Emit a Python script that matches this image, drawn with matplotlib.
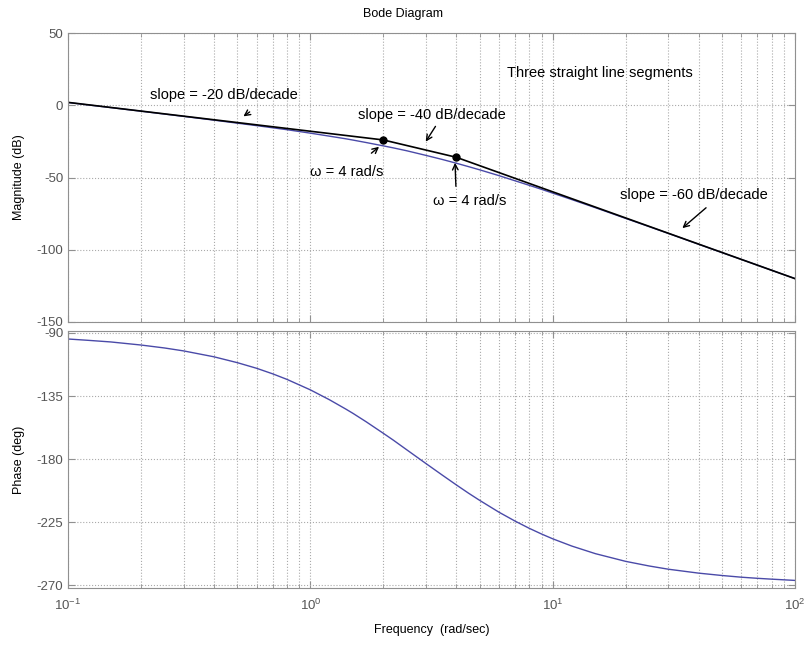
import matplotlib.pyplot as plt
from matplotlib.ticker import LogLocator, NullFormatter

plt.rcParams['font.family'] = ['Liberation Sans', 'DejaVu Sans']
plt.rcParams['axes.unicode_minus'] = False

# values
freq = [0.1, 0.12, 0.15, 0.2, 0.25, 0.3, 0.4, 0.5, 0.6, 0.7,
        0.8, 1, 1.2, 1.4, 1.5, 1.7, 2, 2.2, 2.5, 3,
        3.5, 4, 4.5, 5, 6, 7, 8, 9, 10, 12,
        15, 20, 25, 30, 40, 50, 60, 70, 80, 100]
mag_db = [1.9, 0.3, -1.6, -4.1, -6.1, -7.7, -10.3, -12.4, -14.1, -15.6,
          -16.9, -19.3, -21.4, -23.2, -24.1, -25.8, -28.1, -29.5, -31.5, -34.7,
          -37.5, -40.1, -42.5, -44.7, -48.7, -52.3, -55.4, -58.2, -60.8, -65.3,
          -70.9, -78.3, -84.0, -88.7, -96.2, -102.0, -106.7, -110.7, -114.2, -120.0]
phase_deg = [-94.3, -95.2, -96.4, -98.6, -100.7, -102.8, -107.0, -111.2, -115.2, -119.2,
             -123.1, -130.6, -137.7, -144.3, -147.4, -153.4, -161.6, -166.5, -173.4, -183.2,
             -191.4, -198.4, -204.4, -209.5, -217.9, -224.3, -229.4, -233.5, -236.9, -242.1,
             -247.5, -253.0, -256.3, -258.6, -261.4, -263.1, -264.3, -265.1, -265.7, -266.6]

# straight line approximation
asym_w = [0.1, 2, 4, 100]
asym_db = [2, -24, -36, -120]
corner_w = [2, 4]
corner_db = [-24, -36]

mag_ticks = [50, 0, -50, -100, -150]
phase_ticks = [-90, -135, -180, -225, -270]

curve_color = '#4a4aa8'
tick_gray = '#555555'
spine_gray = '#909090'

fig = plt.figure(figsize=(8.06, 6.45), dpi=100)
ax1 = fig.add_axes([0.0844, 0.5008, 0.902, 0.448])
ax2 = fig.add_axes([0.0844, 0.0884, 0.902, 0.3984])


def style(ax):
    ax.set_xscale('log')
    ax.set_xlim(0.1, 100)
    ax.xaxis.set_minor_locator(LogLocator(base=10, subs=range(2, 10)))
    ax.xaxis.set_minor_formatter(NullFormatter())
    ax.grid(True, which='both', axis='x', linestyle=':', color='#aaaaaa', linewidth=0.8)
    ax.grid(True, which='major', axis='y', linestyle=':', color='#aaaaaa', linewidth=0.8)
    ax.tick_params(which='both', direction='in', colors=spine_gray, labelcolor=tick_gray,
                   labelsize=9.5, top=True, right=True)
    ax.tick_params(which='major', length=5)
    ax.tick_params(which='minor', length=3)
    for s in ax.spines.values():
        s.set_color(spine_gray)


style(ax1)
ax1.plot(freq, mag_db, color=curve_color, linewidth=1)
ax1.plot(asym_w, asym_db, color='black', linewidth=1.2)
ax1.plot(corner_w, corner_db, 'o', color='black', markersize=5)
ax1.set_ylim(-150, 50)
ax1.set_yticks(mag_ticks)
ax1.tick_params(axis='x', labelbottom=False)
ax1.set_ylabel('Magnitude (dB)', fontsize=9, labelpad=8)

arrow = dict(arrowstyle='->', color='black', linewidth=1)
fs = 10.5
ax1.annotate('', xy=(0.518, -8.8), xytext=(0.574, -3.5), arrowprops=arrow)
ax1.text(0.218, 7.1, 'slope = -20 dB/decade', fontsize=fs, va='center')
ax1.annotate('', xy=(2.95, -26.8), xytext=(3.33, -13), arrowprops=arrow)
ax1.text(1.57, -6.7, 'slope = -40 dB/decade', fontsize=fs, va='center')
ax1.annotate('', xy=(1.96, -27.5), xytext=(1.75, -34.4), arrowprops=arrow)
ax1.text(1.0, -46.2, 'ω = 4 rad/s', fontsize=fs, va='center')
ax1.annotate('', xy=(3.95, -37.9), xytext=(3.99, -58), arrowprops=arrow)
ax1.text(3.21, -66.3, 'ω = 4 rad/s', fontsize=fs, va='center')
ax1.annotate('', xy=(33.6, -86.3), xytext=(43.8, -69.7), arrowprops=arrow)
ax1.text(18.97, -62.1, 'slope = -60 dB/decade', fontsize=fs, va='center')
ax1.text(6.48, 22.3, 'Three straight line segments', fontsize=fs, va='center')

style(ax2)
ax2.plot(freq, phase_deg, color=curve_color, linewidth=1)
ax2.set_ylim(-272, -88.6)
ax2.set_yticks(phase_ticks)
ax2.set_ylabel('Phase (deg)', fontsize=9, labelpad=8)
ax2.set_xlabel('Frequency  (rad/sec)', fontsize=9, labelpad=8)
ax2.tick_params(axis='x', pad=7)

fig.text(0.5, 0.978, 'Bode Diagram', ha='center', va='center', fontsize=9)

fig.savefig('out.png', dpi=100)
